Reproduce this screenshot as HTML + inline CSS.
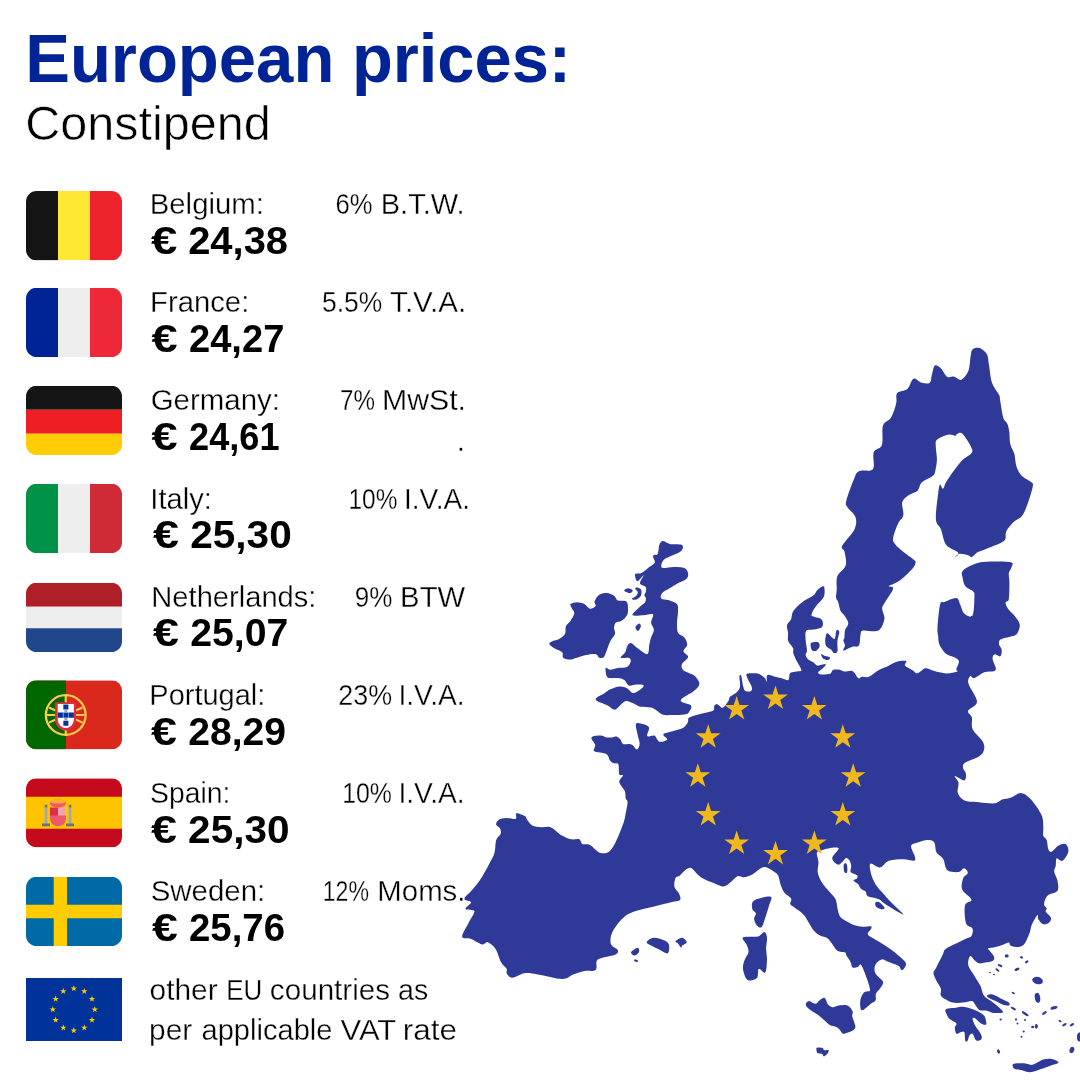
<!DOCTYPE html>
<html><head><meta charset="utf-8"><title>European prices</title>
<style>html,body{margin:0;padding:0;background:#fff}svg{display:block}
text{font-family:"Liberation Sans",Arial,sans-serif}.thin{stroke:#fff;stroke-width:0.32px}.thin2{stroke:#fff;stroke-width:0.6px}</style></head>
<body><svg width="1080" height="1080" viewBox="0 0 1080 1080">
<defs><clipPath id="cBE"><path d="M4 5C1.791 5 0 6.791 0 9v18c0 2.209 1.791 4 4 4h28c2.209 0 4-1.791 4-4V9c0-2.209-1.791-4-4-4z"/></clipPath><clipPath id="cFR"><path d="M4 5C1.791 5 0 6.791 0 9v18c0 2.209 1.791 4 4 4h28c2.209 0 4-1.791 4-4V9c0-2.209-1.791-4-4-4z"/></clipPath><clipPath id="cDE"><path d="M4 5C1.791 5 0 6.791 0 9v18c0 2.209 1.791 4 4 4h28c2.209 0 4-1.791 4-4V9c0-2.209-1.791-4-4-4z"/></clipPath><clipPath id="cIT"><path d="M4 5C1.791 5 0 6.791 0 9v18c0 2.209 1.791 4 4 4h28c2.209 0 4-1.791 4-4V9c0-2.209-1.791-4-4-4z"/></clipPath><clipPath id="cNL"><path d="M4 5C1.791 5 0 6.791 0 9v18c0 2.209 1.791 4 4 4h28c2.209 0 4-1.791 4-4V9c0-2.209-1.791-4-4-4z"/></clipPath><clipPath id="cPT"><path d="M4 5C1.791 5 0 6.791 0 9v18c0 2.209 1.791 4 4 4h28c2.209 0 4-1.791 4-4V9c0-2.209-1.791-4-4-4z"/></clipPath><clipPath id="cES"><path d="M4 5C1.791 5 0 6.791 0 9v18c0 2.209 1.791 4 4 4h28c2.209 0 4-1.791 4-4V9c0-2.209-1.791-4-4-4z"/></clipPath><clipPath id="cSE"><path d="M4 5C1.791 5 0 6.791 0 9v18c0 2.209 1.791 4 4 4h28c2.209 0 4-1.791 4-4V9c0-2.209-1.791-4-4-4z"/></clipPath></defs>
<rect width="1080" height="1080" fill="#fff"/>
<path fill="#2f3a98" d="M496.1 824.4C496.0 823.0 497.2 820.9 498.9 819.8C500.6 818.7 503.5 818.1 506.3 818.0C509.1 817.9 513.9 819.7 515.6 818.9C517.3 818.1 515.0 813.8 516.5 813.3C518.0 812.8 523.1 815.2 524.8 816.1C526.5 817.0 525.5 817.4 526.7 818.9C527.9 820.4 529.7 824.0 532.2 825.4C534.7 826.8 538.4 826.9 541.5 827.2C544.6 827.5 547.3 825.8 550.7 827.2C554.1 828.6 558.5 833.6 561.9 835.6C565.3 837.6 568.2 838.7 571.1 839.3C574.0 839.9 577.5 838.5 579.4 839.3C581.2 840.1 580.5 843.0 582.2 843.9C583.9 844.8 587.4 843.9 589.6 844.8C591.8 845.7 593.4 848.0 595.2 849.4C597.1 850.8 598.6 852.6 600.7 853.1C602.9 853.6 605.9 853.4 608.1 852.2C610.3 851.0 611.8 848.8 613.7 845.7C615.6 842.6 617.6 837.7 619.3 833.7C621.0 829.7 622.8 825.1 623.9 821.7C625.0 818.3 625.1 816.5 625.7 813.3C626.3 810.0 627.6 804.7 627.6 802.2C627.6 799.7 626.2 800.4 625.7 798.5C625.2 796.6 625.9 793.9 624.8 791.1C623.7 788.3 619.6 784.5 619.3 781.9C619.0 779.3 623.0 776.6 623.0 775.4C623.0 774.1 620.1 776.2 619.3 774.4C618.5 772.5 619.2 766.1 618.3 764.3C617.4 762.4 615.1 763.9 613.7 763.3C612.3 762.7 611.2 762.1 610.0 760.6C608.8 759.1 608.9 755.7 606.3 754.1C603.7 752.5 596.1 752.8 594.3 751.3C592.4 749.8 595.7 747.1 595.2 744.8C594.7 742.5 590.6 738.9 591.5 737.4C592.4 735.9 598.2 735.6 600.7 735.6C603.2 735.6 604.4 737.1 606.3 737.4C608.2 737.7 610.2 737.5 611.9 737.4C613.6 737.2 615.1 736.2 616.5 736.5C617.9 736.8 619.1 738.1 620.2 739.3C621.3 740.5 621.6 743.1 623.0 743.9C624.4 744.7 627.0 743.8 628.5 743.9C630.0 744.0 630.8 743.9 632.2 744.8C633.6 745.7 635.7 749.5 636.9 749.4C638.1 749.2 639.5 746.2 639.6 743.9C639.8 741.6 638.4 738.9 637.8 735.6C637.2 732.4 635.4 726.4 635.9 724.4C636.4 722.4 638.4 723.0 640.6 723.5C642.8 724.0 647.8 725.1 648.9 727.2C650.0 729.3 646.3 734.7 647.2 736.1C648.1 737.5 652.4 734.7 654.4 735.6C656.4 736.5 657.3 741.1 659.4 741.7C661.5 742.3 666.6 740.6 667.2 739.4C667.9 738.2 662.3 735.8 663.3 734.4C664.3 733.0 670.0 732.2 673.3 731.1C676.6 730.0 680.9 729.3 683.3 727.8C685.7 726.3 686.9 723.9 687.8 722.2C688.7 720.5 687.4 719.0 688.9 717.8C690.4 716.6 693.9 715.8 696.7 715.0C699.5 714.2 702.8 713.5 705.6 712.8C708.4 712.1 711.8 711.8 713.3 710.6C714.8 709.4 713.6 706.6 714.4 705.6C715.1 704.6 716.5 704.0 717.8 704.4C719.1 704.8 720.9 707.7 722.2 707.8C723.5 707.9 724.5 706.3 725.6 705.0C726.7 703.7 728.2 701.4 728.9 700.0C729.6 698.6 728.7 698.0 730.0 696.7C731.3 695.4 735.0 693.9 736.7 692.2C738.4 690.5 739.5 689.3 740.0 686.7C740.5 684.1 739.2 678.6 739.4 676.7C739.6 674.9 740.5 673.9 741.1 675.6C741.8 677.3 742.5 684.1 743.3 686.7C744.0 689.3 744.3 690.4 745.6 691.1C746.9 691.8 750.1 691.8 751.1 691.1C752.1 690.4 752.2 688.7 751.7 686.7C751.2 684.7 748.6 681.0 747.8 678.9C747.0 676.8 745.6 674.8 746.7 673.9C747.8 673.0 752.2 673.2 754.4 673.3C756.6 673.4 758.2 673.6 760.0 674.4C761.8 675.2 763.9 677.1 765.0 678.3C766.1 679.5 766.3 682.2 766.7 681.7C767.1 681.2 766.1 675.8 767.5 675.0C768.9 674.2 772.6 676.2 775.0 676.7C777.4 677.2 779.5 677.8 781.7 678.3C783.9 678.8 786.9 680.8 788.3 680.0C789.7 679.2 788.9 674.7 790.0 673.3C791.1 671.9 793.1 672.1 795.0 671.7C796.9 671.3 800.2 671.4 801.1 670.7C802.0 670.1 801.1 669.4 800.4 667.8C799.7 666.2 797.9 663.5 796.7 661.1C795.5 658.7 793.9 655.5 793.3 653.3C792.7 651.1 793.9 650.2 793.0 648.1C792.1 646.0 788.9 643.2 788.1 640.7C787.3 638.2 788.3 635.9 788.1 633.3C787.9 630.7 786.5 627.5 787.0 625.2C787.5 622.9 790.1 621.6 791.1 619.3C792.1 616.9 791.4 614.0 793.3 611.1C795.1 608.2 798.9 604.8 802.2 602.2C805.5 599.6 810.8 597.6 813.3 595.6C815.8 593.6 815.4 592.0 817.0 590.4C818.6 588.8 821.8 586.7 823.0 586.3C824.2 585.9 824.2 586.7 824.4 588.1C824.6 589.5 824.8 592.9 824.4 594.8C824.0 596.7 823.7 597.3 822.2 599.3C820.7 601.3 817.3 604.4 815.6 606.7C813.9 609.0 812.4 611.7 811.9 613.3C811.4 614.9 811.1 615.4 812.6 616.3C814.1 617.2 819.4 617.6 821.1 618.9C822.8 620.2 823.0 622.6 823.0 624.1C823.0 625.6 822.6 626.9 821.1 627.8C819.6 628.7 816.2 629.1 813.7 629.6C811.2 630.1 807.6 629.0 806.3 630.7C804.9 632.4 805.5 636.3 805.6 639.6C805.7 642.9 807.0 648.2 807.0 650.7C807.0 653.2 805.5 653.0 805.6 654.4C805.7 655.8 806.4 657.5 807.8 658.9C809.1 660.3 812.1 661.5 813.7 662.6C815.3 663.7 815.4 665.4 817.4 665.6C819.4 665.9 824.7 663.6 825.6 664.1C826.5 664.6 823.9 667.1 822.6 668.5C821.4 669.9 818.4 671.2 818.1 672.2C817.9 673.2 819.1 674.1 821.1 674.4C823.1 674.6 828.0 674.4 830.0 673.7C832.0 673.0 831.5 670.7 833.0 670.0C834.5 669.3 837.0 669.4 838.9 669.6C840.8 669.9 842.0 671.3 844.1 671.5C846.2 671.7 849.6 670.3 851.5 670.7C853.4 671.1 854.1 672.4 855.2 673.7C856.3 675.0 857.1 677.8 858.3 678.3C859.5 678.8 860.4 677.0 862.2 676.7C864.0 676.4 866.1 677.8 868.9 676.7C871.7 675.6 875.9 671.7 878.9 670.0C881.9 668.3 883.7 668.1 886.7 666.7C889.7 665.3 893.5 662.6 896.7 661.7C899.9 660.8 904.7 660.5 906.1 661.1C907.5 661.8 904.0 664.1 905.0 665.6C906.0 667.1 910.2 668.7 912.2 670.0C914.2 671.3 915.2 673.1 916.7 673.3C918.2 673.5 919.6 671.9 921.1 671.1C922.6 670.3 923.4 668.3 925.6 668.3C927.8 668.3 931.3 670.3 934.4 671.1C937.5 671.9 941.4 673.0 944.4 673.3C947.4 673.6 950.0 673.1 952.2 672.8C954.4 672.4 956.9 671.8 957.6 671.2C958.3 670.6 956.1 670.9 956.3 669.3C956.5 667.7 959.1 663.5 958.9 661.5C958.7 659.5 957.2 658.9 955.0 657.6C952.8 656.3 948.5 655.9 945.9 653.7C943.3 651.5 940.7 647.6 939.4 644.6C938.1 641.6 938.4 638.4 938.1 635.6C937.8 632.8 937.2 633.0 937.5 627.8C937.8 622.6 938.9 608.7 940.1 604.4C941.3 600.1 941.9 603.0 944.6 601.9C947.3 600.8 953.7 597.6 956.3 598.0C958.9 598.4 958.9 601.8 960.2 604.4C961.5 607.0 962.1 611.6 964.1 613.5C966.1 615.4 970.8 618.3 972.5 615.5C974.2 612.7 974.3 600.7 974.4 596.7C974.5 592.7 974.7 593.2 973.2 591.5C971.7 589.8 967.1 588.5 965.4 586.3C963.7 584.1 963.2 581.1 962.8 578.5C962.4 575.9 960.6 573.2 962.8 570.7C964.9 568.2 971.6 565.1 975.7 563.6C979.8 562.1 981.6 561.9 987.4 561.7C993.2 561.5 1006.7 561.3 1010.7 562.3C1014.7 563.3 1011.7 565.7 1011.4 567.5C1011.1 569.3 1009.1 570.8 1008.8 573.3C1008.5 575.8 1009.4 578.1 1009.4 582.4C1009.4 586.7 1009.4 595.9 1008.8 599.3C1008.2 602.6 1005.7 600.9 1005.6 602.5C1005.5 604.1 1006.5 606.5 1008.2 609.0C1009.9 611.5 1014.0 614.7 1015.9 617.4C1017.8 620.1 1019.7 622.4 1019.8 625.2C1019.9 628.0 1018.3 632.3 1016.6 634.3C1014.9 636.2 1012.1 636.0 1009.4 636.9C1006.7 637.8 1002.1 638.1 1000.4 639.4C998.7 640.7 998.9 642.9 999.1 644.6C999.3 646.3 1001.5 647.8 1001.7 649.8C1001.9 651.8 1001.6 655.5 1000.4 656.3C999.2 657.1 995.8 654.0 994.5 654.4C993.2 654.8 992.4 656.6 992.6 658.9C992.8 661.2 995.6 666.0 995.8 668.0C996.0 670.0 995.8 670.5 993.9 671.2C992.0 671.9 987.7 671.1 984.4 672.2C981.1 673.4 976.4 677.5 974.1 678.1C971.8 678.7 971.4 675.5 970.4 675.9C969.4 676.3 968.2 678.7 968.1 680.4C968.0 682.1 968.1 682.7 969.6 686.3C971.1 689.9 977.2 697.8 977.0 701.9C976.8 706.0 969.0 708.1 968.1 710.7C967.2 713.3 971.1 714.3 971.9 717.4C972.6 720.5 970.8 725.2 972.6 729.3C974.5 733.4 981.1 738.3 983.0 741.9C984.9 745.5 984.5 748.2 983.7 750.7C983.0 753.2 981.6 754.7 978.5 756.7C975.4 758.7 967.8 760.8 965.2 762.6C962.6 764.5 962.9 765.9 963.0 767.8C963.1 769.6 965.7 771.6 965.9 773.7C966.1 775.8 966.2 780.0 964.4 780.4C962.5 780.8 955.8 775.5 954.8 775.9C953.8 776.3 958.0 779.8 958.5 782.6C959.0 785.5 956.8 790.0 957.8 793.0C958.8 796.0 961.2 798.9 964.4 800.4C967.6 801.9 971.9 801.4 977.0 801.9C982.1 802.4 990.6 803.7 994.8 803.3C999.0 802.9 999.5 800.6 1002.2 799.6C1004.9 798.6 1008.0 798.5 1011.1 797.4C1014.2 796.3 1017.7 793.0 1020.7 793.0C1023.7 793.0 1026.3 795.2 1028.9 797.4C1031.5 799.6 1034.1 803.1 1036.3 806.3C1038.5 809.5 1041.0 813.3 1042.2 816.7C1043.4 820.1 1043.1 823.5 1043.3 826.7C1043.5 829.9 1042.7 833.6 1043.3 835.8C1043.9 838.0 1045.9 837.8 1046.7 840.0C1047.5 842.2 1047.5 847.2 1048.3 849.2C1049.1 851.2 1050.0 852.3 1051.7 851.7C1053.4 851.1 1056.0 847.0 1058.3 845.8C1060.6 844.5 1064.1 843.2 1065.8 844.2C1067.5 845.2 1068.8 848.9 1068.3 851.7C1067.8 854.5 1064.4 859.7 1062.5 860.8C1060.6 861.9 1057.8 857.5 1056.7 858.3C1055.6 859.1 1056.2 863.6 1055.8 865.8C1055.4 868.0 1053.9 869.2 1054.2 871.7C1054.5 874.2 1057.0 877.6 1057.5 880.8C1058.0 884.0 1059.0 888.4 1057.5 890.8C1056.0 893.2 1050.4 893.5 1048.3 895.0C1046.2 896.5 1045.7 898.3 1045.0 900.0C1044.3 901.7 1043.9 903.6 1044.2 905.0C1044.5 906.4 1046.4 907.2 1046.7 908.3C1047.0 909.4 1045.1 910.2 1045.8 911.7C1046.5 913.2 1050.2 915.7 1050.8 917.5C1051.4 919.3 1050.5 921.4 1049.2 922.5C1048.0 923.6 1045.1 924.8 1043.3 924.2C1041.5 923.7 1039.3 920.7 1038.3 919.2C1037.3 917.7 1038.6 914.0 1037.5 915.0C1036.4 916.0 1033.0 922.0 1031.7 925.0C1030.4 928.0 1030.9 929.7 1029.6 933.0C1028.3 936.3 1025.9 942.5 1023.7 944.8C1021.5 947.1 1018.5 946.9 1016.3 947.0C1014.1 947.1 1011.6 946.3 1010.4 945.6C1009.2 944.9 1010.1 942.7 1008.9 942.6C1007.7 942.5 1005.2 944.1 1003.0 944.8C1000.8 945.5 998.1 946.4 995.6 947.0C993.1 947.6 989.1 947.9 988.1 948.5C987.1 949.1 988.6 949.3 989.6 950.7C990.6 952.1 993.6 955.0 994.1 956.7C994.6 958.4 994.1 960.1 992.6 961.1C991.1 962.1 987.4 962.2 985.2 962.6C983.0 963.0 981.0 963.7 979.3 963.3C977.6 962.9 976.3 961.6 974.8 960.4C973.3 959.2 971.5 955.6 970.4 955.9C969.3 956.1 968.4 960.0 968.1 961.9C967.9 963.8 968.1 965.1 968.9 967.0C969.6 968.9 971.4 971.0 972.6 973.0C973.8 975.0 974.9 976.7 976.3 978.9C977.6 981.1 979.5 983.6 980.7 986.3C981.9 989.0 982.0 992.7 983.7 995.2C985.4 997.7 988.6 999.1 991.1 1001.1C993.6 1003.1 996.5 1005.1 998.5 1007.0C1000.5 1008.9 1003.7 1011.2 1003.0 1012.2C1002.3 1013.2 996.8 1013.2 994.1 1013.0C991.4 1012.8 989.2 1011.2 986.7 1010.7C984.2 1010.2 981.3 1011.1 979.3 1010.0C977.3 1008.9 976.0 1005.6 974.8 1004.1C973.6 1002.6 973.9 1001.4 971.9 1001.1C969.9 1000.9 966.2 1002.4 963.0 1002.6C959.8 1002.9 955.5 1003.1 952.6 1002.6C949.8 1002.1 947.9 1000.8 945.9 999.6C943.9 998.4 941.5 997.0 940.7 995.2C939.9 993.4 941.6 991.2 940.9 988.7C940.2 986.2 937.5 983.0 936.3 980.4C935.1 977.8 933.5 975.2 933.5 973.0C933.5 970.8 934.8 970.5 936.3 967.4C937.8 964.3 941.2 957.5 942.8 954.4C944.3 951.3 943.3 950.8 945.6 948.9C947.9 947.0 953.3 945.0 956.7 943.3C960.1 941.6 963.4 939.9 965.9 938.7C968.4 937.5 970.4 937.6 971.5 935.9C972.6 934.2 973.3 930.6 972.4 928.5C971.5 926.4 967.1 926.9 965.9 923.0C964.7 919.1 964.1 909.3 965.0 905.4C965.9 901.5 972.0 902.4 971.5 899.8C971.0 897.2 963.6 893.1 962.2 889.6C960.8 886.1 962.2 881.3 963.1 878.5C964.0 875.7 967.6 874.7 967.8 873.0C968.0 871.3 965.6 868.5 964.1 868.3C962.6 868.1 961.3 871.7 958.5 872.0C955.7 872.3 949.9 872.2 947.4 870.2C944.9 868.2 944.8 862.3 943.7 860.0C942.6 857.7 941.9 857.6 940.7 856.3C939.5 854.9 937.4 854.2 936.3 851.9C935.2 849.5 935.6 844.2 934.1 842.2C932.6 840.2 930.0 840.0 927.4 840.0C924.8 840.0 921.2 841.2 918.5 842.2C915.8 843.2 911.7 843.5 911.1 845.9C910.5 848.2 914.3 853.8 914.8 856.3C915.3 858.8 916.0 860.2 914.1 860.7C912.2 861.2 907.9 859.3 903.7 859.3C899.5 859.3 892.9 859.4 888.9 860.7C884.9 862.1 883.1 866.9 880.0 867.4C876.9 867.9 871.9 862.6 870.4 863.7C868.9 864.8 870.2 870.7 871.1 874.1C872.0 877.5 873.6 881.2 875.6 884.4C877.6 887.6 880.8 890.7 883.0 893.3C885.2 895.9 886.7 897.7 888.9 900.0C891.1 902.3 893.6 904.6 896.0 907.0C898.4 909.4 904.8 915.1 903.0 914.6C901.2 914.1 889.4 906.8 885.5 904.3C881.6 901.8 881.3 900.6 879.5 899.6C877.7 898.6 876.8 898.6 874.8 898.0C872.8 897.4 868.9 897.2 867.4 896.1C865.9 895.0 866.7 892.7 865.6 891.5C864.5 890.3 862.1 889.9 860.9 888.7C859.6 887.5 859.3 885.5 858.1 884.1C856.9 882.7 853.7 881.3 853.5 880.4C853.3 879.5 856.2 879.4 856.8 878.5C857.4 877.6 858.2 876.4 857.2 875.3C856.2 874.2 851.7 873.5 850.7 872.0C849.7 870.5 851.4 868.4 851.2 866.5C851.1 864.6 850.6 862.3 849.8 860.9C848.9 859.5 847.3 857.9 846.1 858.1C844.9 858.3 843.8 860.8 842.4 861.9C841.0 863.0 839.5 865.2 837.8 864.6C836.1 864.0 832.1 860.8 832.2 858.1C832.4 855.4 839.3 850.0 838.7 848.4C838.1 846.8 831.3 848.1 828.5 848.4C825.7 848.7 823.9 849.6 822.0 850.3C820.1 851.0 817.5 850.6 816.9 852.6C816.3 854.6 818.4 858.9 818.5 862.2C818.6 865.5 817.2 869.1 817.8 872.6C818.4 876.1 820.2 879.8 822.2 883.0C824.2 886.2 827.4 889.2 829.6 891.9C831.8 894.6 834.2 896.3 835.6 899.3C837.0 902.3 837.0 907.0 837.8 910.0C838.6 913.0 838.9 915.2 840.4 917.1C841.9 919.0 844.1 919.8 846.5 921.2C848.9 922.6 851.9 924.4 854.6 925.3C857.3 926.2 860.1 926.6 862.8 926.8C865.5 927.0 869.5 925.9 870.9 926.3C872.2 926.7 871.4 927.9 870.9 929.3C870.4 930.6 866.9 932.5 867.9 934.4C868.9 936.3 873.1 938.0 877.0 940.5C880.9 943.0 886.9 946.5 891.3 949.7C895.7 952.9 901.0 957.5 903.5 959.9C906.0 962.3 905.8 962.6 906.0 964.0C906.2 965.4 905.2 967.0 904.5 968.0C903.8 969.0 902.4 970.4 901.5 970.1C900.6 969.9 900.4 967.4 899.4 966.5C898.4 965.6 897.6 965.4 895.4 964.5C893.2 963.6 888.4 961.8 886.2 960.9C884.0 960.0 883.6 959.1 882.1 959.4C880.6 959.6 878.3 961.0 877.0 962.4C875.7 963.8 874.7 966.0 874.5 968.0C874.3 970.0 874.7 972.2 876.0 974.2C877.3 976.2 880.9 978.8 882.1 980.3C883.3 981.8 883.4 981.9 883.1 983.3C882.8 984.6 881.3 986.7 880.1 988.4C878.9 990.1 876.8 991.5 876.0 993.5C875.2 995.5 876.4 998.9 875.5 1000.6C874.6 1002.3 873.1 1002.1 870.9 1003.7C868.7 1005.3 864.1 1010.0 862.3 1010.3C860.5 1010.6 860.5 1007.7 860.2 1005.7C859.9 1003.8 860.1 1000.8 860.7 998.6C861.3 996.4 862.8 993.7 863.8 992.5C864.8 991.3 865.8 992.2 866.8 991.5C867.8 990.8 870.7 992.6 869.9 988.4C869.1 984.1 863.8 969.6 861.8 966.0C859.8 962.4 859.2 966.8 857.7 967.0C856.2 967.2 853.8 968.4 852.6 967.5C851.4 966.6 851.5 963.9 850.5 961.9C849.5 959.9 847.3 957.3 846.5 955.8C845.7 954.3 846.5 953.5 845.5 952.8C844.5 952.1 841.9 952.3 840.4 951.8C838.9 951.3 837.8 951.2 836.3 949.7C834.8 948.2 832.7 944.6 831.2 942.6C829.7 940.6 829.0 939.2 827.1 938.0C825.2 936.8 822.3 936.8 820.0 935.5C817.7 934.2 815.9 933.4 813.3 930.0C810.6 926.6 807.2 918.9 804.1 915.2C801.0 911.5 797.1 909.6 794.8 907.8C792.5 905.9 790.8 905.6 790.2 904.1C789.6 902.6 792.0 900.4 791.1 898.5C790.2 896.6 786.3 895.1 784.6 893.0C782.9 890.9 782.0 888.5 780.9 885.6C779.8 882.7 779.5 877.9 778.1 875.4C776.7 872.9 774.8 872.1 772.6 870.7C770.5 869.3 767.4 867.3 765.2 867.0C763.0 866.7 761.8 867.7 759.6 868.9C757.4 870.1 754.8 873.0 752.2 874.4C749.6 875.8 746.4 876.9 743.9 877.2C741.4 877.5 739.7 875.4 737.4 876.3C735.1 877.2 732.3 881.1 730.0 882.8C727.7 884.5 726.0 886.4 723.5 886.5C721.0 886.6 718.4 884.9 715.2 883.7C712.0 882.5 707.0 880.7 704.1 879.1C701.2 877.5 699.8 876.2 697.6 874.4C695.4 872.5 693.1 868.8 691.1 868.0C689.1 867.2 687.5 868.6 685.6 869.8C683.8 871.0 681.7 874.1 680.0 875.4C678.3 876.7 676.5 875.9 675.6 877.8C674.7 879.7 673.9 884.1 674.4 886.7C674.9 889.3 678.0 891.1 678.9 893.3C679.8 895.5 681.3 898.5 680.0 900.0C678.7 901.5 675.6 901.1 671.1 902.2C666.6 903.3 659.2 905.2 653.3 906.7C647.4 908.2 640.4 909.4 635.6 911.1C630.8 912.8 627.7 914.1 624.4 916.7C621.1 919.3 617.8 923.6 615.6 926.7C613.4 929.9 611.9 932.7 611.1 935.6C610.4 938.5 610.0 942.0 611.1 944.4C612.2 946.8 617.0 948.3 617.8 950.0C618.5 951.7 618.2 953.1 615.6 954.4C613.0 955.7 605.4 956.7 602.2 957.8C599.1 958.9 597.8 959.1 596.7 961.1C595.6 963.1 597.7 968.3 595.6 970.0C593.5 971.7 588.1 970.4 584.4 971.1C580.7 971.8 577.0 973.1 573.3 974.4C569.6 975.7 568.1 978.9 562.2 978.9C556.3 978.9 544.1 975.3 537.8 974.4C531.5 973.5 528.7 972.7 524.4 973.3C520.1 973.9 515.2 977.8 512.2 977.8C509.3 977.8 507.6 974.8 506.7 973.3C505.8 971.8 507.6 970.8 506.7 968.9C505.8 967.0 503.0 965.5 501.1 962.2C499.2 958.9 497.8 952.2 495.6 948.9C493.4 945.6 490.0 943.0 487.8 942.2C485.6 941.5 485.0 945.0 482.2 944.4C479.4 943.8 474.4 940.2 471.1 938.9C467.8 937.6 462.6 939.5 462.2 936.7C461.8 933.9 466.9 926.5 468.9 922.2C470.9 917.9 474.9 913.3 474.4 911.1C473.8 908.9 466.2 910.4 465.6 908.9C465.1 907.4 471.3 903.9 471.1 902.2C470.9 900.5 464.4 900.8 464.4 898.9C464.4 897.0 468.5 894.2 471.1 891.1C473.7 888.0 477.0 884.5 480.0 880.0C483.0 875.5 486.5 868.9 488.9 864.4C491.3 859.9 493.2 857.3 494.4 853.3C495.6 849.3 495.1 843.5 496.1 840.2C497.2 836.9 500.1 835.7 500.7 833.7C501.3 831.7 500.6 829.7 499.8 828.1C499.0 826.5 496.2 825.8 496.1 824.4ZM972.6 349.2C974.1 347.8 977.3 347.2 979.7 348.1C982.1 349.0 985.4 351.6 986.9 354.3C988.4 357.0 988.0 359.6 988.9 364.4C989.8 369.1 990.3 377.7 992.0 382.8C993.7 387.9 997.8 392.1 999.1 395.0C1000.5 397.9 999.4 396.4 1000.1 400.1C1000.8 403.8 1002.0 413.5 1003.2 417.4C1004.4 421.3 1006.2 421.1 1007.2 423.5C1008.2 425.9 1008.8 428.3 1009.3 431.7C1009.8 435.1 1009.4 440.2 1010.3 443.9C1011.1 447.6 1013.4 450.4 1014.4 454.1C1015.4 457.8 1015.2 462.7 1016.4 466.3C1017.6 469.9 1019.0 472.8 1021.5 475.5C1024.0 478.2 1029.8 480.7 1031.7 482.6C1033.6 484.5 1033.2 483.6 1032.7 486.7C1032.2 489.8 1030.3 496.1 1028.6 500.9C1026.9 505.6 1025.0 511.6 1022.5 515.2C1020.0 518.8 1016.0 519.6 1013.3 522.3C1010.6 525.0 1007.7 528.4 1006.2 531.5C1004.7 534.6 1007.1 538.0 1004.2 540.7C1001.3 543.4 992.4 546.2 988.9 547.8C985.4 549.3 985.5 549.2 983.5 550.0C981.5 550.8 978.9 551.4 977.0 552.6C975.1 553.8 973.4 556.7 971.9 557.1C970.4 557.5 970.2 555.7 968.0 555.2C965.8 554.7 961.3 553.4 958.9 553.9C956.5 554.4 953.8 558.6 953.7 558.4C953.6 558.2 959.6 555.2 958.3 552.9C957.0 550.6 949.0 548.6 946.1 544.7C943.2 540.8 942.7 533.6 941.0 529.4C939.3 525.2 936.4 525.1 935.9 519.3C935.4 513.5 937.3 500.6 938.0 494.8C938.7 489.0 939.1 485.6 940.0 484.6C940.9 483.6 941.9 489.4 943.1 488.7C944.3 488.0 944.2 485.0 947.1 480.6C950.0 476.2 956.3 466.8 960.4 462.2C964.5 457.6 969.9 455.8 971.6 453.1C973.3 450.4 972.1 449.1 970.6 445.9C969.1 442.7 964.6 435.7 962.4 433.7C960.2 431.7 958.5 433.4 957.3 433.7C956.1 434.0 956.8 435.5 955.3 435.7C953.8 435.9 951.3 434.0 948.2 434.7C945.1 435.4 939.0 437.6 936.9 439.8C934.8 442.0 935.9 444.6 935.9 448.0C935.9 451.4 937.1 456.1 936.9 460.2C936.7 464.3 935.7 469.7 934.9 472.4C934.1 475.1 934.1 474.8 931.9 476.5C929.7 478.2 924.1 480.2 921.7 482.6C919.3 485.0 919.7 488.7 917.6 490.7C915.5 492.7 912.0 492.9 909.4 494.8C906.8 496.7 903.3 498.6 902.3 502.0C901.3 505.4 904.0 511.7 903.3 515.2C902.6 518.8 899.9 519.6 898.2 523.3C896.5 527.0 893.8 534.3 893.2 537.6C892.6 540.9 893.1 541.2 894.4 543.3C895.7 545.4 898.0 547.4 901.1 550.0C904.2 552.6 910.4 556.9 912.8 558.9C915.2 560.9 915.7 560.5 915.6 562.2C915.5 563.9 915.0 565.8 912.2 568.9C909.4 572.0 902.8 578.2 898.9 581.1C895.0 584.0 889.9 585.1 888.9 586.1C887.9 587.1 892.2 586.4 892.8 587.2C893.3 588.0 893.6 588.4 892.2 591.1C890.8 593.8 886.1 600.3 884.4 603.3C882.7 606.3 882.2 606.3 882.2 608.9C882.2 611.5 885.0 615.3 884.4 618.9C883.8 622.5 881.8 628.6 878.3 630.6C874.8 632.6 866.2 630.0 863.3 630.6C860.3 631.2 861.3 631.9 860.6 634.4C859.9 636.9 860.3 643.5 858.9 645.6C857.5 647.7 854.8 645.9 852.2 646.7C849.6 647.5 844.5 650.8 843.3 650.6C842.1 650.4 845.0 647.3 845.0 645.6C845.0 643.9 843.4 641.9 843.3 640.6C843.2 639.3 844.1 639.6 844.4 637.8C844.7 636.0 844.4 632.4 845.0 630.0C845.6 627.6 848.4 625.7 848.3 623.3C848.2 620.9 845.7 617.6 844.4 615.6C843.1 613.6 841.6 613.3 840.6 611.1C839.6 608.9 839.0 604.4 838.3 602.2C837.5 600.0 836.4 599.8 836.1 597.8C835.8 595.8 836.5 593.5 836.7 590.0C836.9 586.5 835.9 580.4 837.2 576.7C838.5 573.0 842.9 570.2 844.4 567.8C845.9 565.4 846.1 565.0 846.1 562.2C846.1 559.4 845.0 553.9 844.4 551.1C843.8 548.4 840.5 549.3 842.2 545.7C843.9 542.1 852.2 534.1 854.4 529.4C856.6 524.6 856.7 520.9 855.5 517.2C854.3 513.5 848.8 509.7 847.3 507.0C845.8 504.3 845.3 505.3 846.3 500.9C847.3 496.5 851.4 485.5 853.4 480.6C855.4 475.7 855.6 473.1 858.5 471.4C861.4 469.7 868.2 471.2 870.7 470.4C873.2 469.5 873.3 469.4 873.8 466.3C874.3 463.2 872.4 455.6 873.8 452.0C875.1 448.4 880.4 449.3 881.9 444.9C883.4 440.5 881.5 430.2 883.0 425.6C884.5 421.0 888.9 421.1 891.1 417.4C893.3 413.7 895.2 407.3 896.2 403.2C897.2 399.1 895.3 395.4 897.2 393.0C899.1 390.6 904.7 391.3 907.4 388.9C910.1 386.5 911.1 379.7 913.5 378.7C915.9 377.7 919.0 382.1 921.7 382.8C924.4 383.5 928.1 384.2 929.8 382.8C931.5 381.4 931.0 377.5 931.9 374.6C932.8 371.7 933.4 366.5 934.9 365.5C936.4 364.5 939.0 366.6 941.0 368.5C943.0 370.4 944.9 375.3 947.1 376.7C949.3 378.1 951.9 376.2 954.3 376.7C956.7 377.2 959.0 380.7 961.4 379.7C963.8 378.7 967.0 374.5 968.5 370.6C970.0 366.7 969.9 359.9 970.6 356.3C971.3 352.7 971.1 350.6 972.6 349.2ZM570.6 604.1C571.5 603.2 574.7 602.2 577.0 602.2C579.3 602.2 582.2 602.9 584.4 604.0C586.6 605.1 588.1 608.4 590.0 608.7C591.9 609.0 594.8 607.2 595.6 606.0C596.4 604.8 594.0 603.2 594.6 601.3C595.2 599.4 597.3 596.2 599.3 594.8C601.3 593.4 604.2 592.9 606.7 593.0C609.2 593.1 612.1 594.5 614.0 595.7C615.9 596.9 615.8 599.5 617.8 600.4C619.8 601.3 624.4 600.1 626.1 601.3C627.8 602.5 627.9 605.5 628.0 607.8C628.1 610.1 628.1 613.1 627.0 615.2C625.9 617.4 623.4 619.5 621.5 620.7C619.6 621.9 617.1 621.4 615.9 622.6C614.6 623.8 614.1 626.2 614.0 628.1C613.9 630.0 615.6 631.5 615.0 633.7C614.4 635.9 611.8 638.3 610.4 641.1C609.0 643.9 607.8 647.8 606.7 650.4C605.6 653.0 605.1 655.7 603.9 656.9C602.7 658.1 600.7 658.3 599.3 657.8C597.9 657.3 597.8 654.6 595.6 654.1C593.4 653.6 589.4 654.4 586.3 655.0C583.2 655.6 579.8 657.0 577.0 657.8C574.2 658.6 571.9 659.6 569.6 659.6C567.3 659.6 564.3 659.0 563.1 657.8C561.9 656.6 563.6 653.8 562.2 652.2C560.8 650.7 556.9 649.9 554.8 648.5C552.6 647.1 549.6 645.1 549.3 643.9C549.0 642.7 551.5 641.9 553.0 641.1C554.5 640.3 556.5 640.5 558.5 639.3C560.5 638.1 563.8 635.9 565.0 633.7C566.2 631.5 565.0 628.5 565.9 626.3C566.8 624.1 569.2 622.9 570.6 620.7C572.0 618.5 574.1 615.4 574.3 613.3C574.4 611.1 572.1 609.3 571.5 607.8C570.9 606.3 569.7 605.0 570.6 604.1ZM663.1 541.1C664.8 541.0 666.5 543.3 669.6 543.9C672.7 544.5 679.7 543.7 681.7 544.8C683.7 545.9 683.1 548.7 681.7 550.4C680.3 552.1 676.2 553.5 673.3 555.0C670.4 556.5 666.1 557.9 664.1 559.6C662.1 561.3 661.5 563.8 661.3 565.2C661.1 566.6 661.1 567.7 663.1 568.0C665.1 568.3 669.8 567.0 673.3 567.0C676.8 567.0 681.9 566.9 684.4 568.0C686.9 569.1 687.8 571.6 688.1 573.5C688.4 575.4 688.1 577.4 686.3 579.1C684.4 580.8 679.8 582.2 677.0 583.7C674.2 585.2 672.1 586.8 669.6 588.3C667.1 589.8 663.6 591.3 662.2 593.0C660.8 594.7 660.1 597.3 661.3 598.5C662.5 599.7 667.0 599.5 669.6 600.4C672.2 601.3 675.6 602.2 677.0 604.1C678.4 606.0 678.0 608.4 678.0 611.5C678.0 614.6 677.0 619.1 677.0 622.6C677.0 626.1 676.8 630.3 678.0 632.8C679.2 635.3 682.9 635.4 684.4 637.4C685.9 639.4 687.4 642.5 687.2 644.8C687.1 647.1 683.4 649.3 683.5 651.3C683.6 653.3 688.2 654.9 688.1 656.9C688.0 658.9 683.7 661.3 682.6 663.0C681.5 664.7 681.4 665.9 681.7 667.2C682.0 668.6 682.8 670.0 684.4 671.1C686.0 672.2 689.2 673.0 691.1 673.9C693.0 674.8 694.2 675.0 695.6 676.7C697.0 678.4 699.6 681.6 699.4 683.9C699.2 686.2 696.5 688.6 694.4 690.6C692.3 692.6 688.9 694.1 686.7 695.6C684.5 697.1 681.9 698.3 681.1 699.4C680.4 700.5 680.5 701.2 682.2 702.2C683.9 703.2 690.0 703.9 691.1 705.6C692.2 707.3 690.0 710.7 688.9 712.2C687.8 713.7 687.2 713.9 684.4 714.4C681.6 714.9 675.9 715.0 672.2 715.0C668.5 715.0 665.5 715.6 662.2 714.4C658.9 713.2 655.9 709.1 652.2 707.8C648.5 706.5 643.3 707.5 640.0 706.7C636.7 705.9 635.1 704.0 632.6 703.1C630.1 702.2 627.7 700.5 625.2 701.3C622.7 702.1 619.7 706.4 617.8 707.8C615.9 709.2 615.9 710.1 614.0 709.6C612.1 709.1 609.8 706.7 606.7 705.0C603.6 703.3 595.9 701.4 595.6 699.4C595.3 697.4 602.3 694.7 604.8 693.0C607.3 691.3 607.9 690.4 610.4 689.3C612.9 688.2 616.8 686.7 619.6 686.5C622.4 686.3 624.8 687.2 627.0 688.3C629.2 689.4 630.8 692.5 632.6 693.0C634.5 693.5 636.2 692.3 638.1 691.1C640.0 689.9 644.0 686.7 643.7 685.6C643.4 684.5 638.8 684.6 636.3 684.6C633.8 684.6 630.9 686.4 628.9 685.6C626.9 684.8 626.1 681.2 624.3 680.0C622.4 678.8 620.1 678.4 617.8 678.1C615.5 677.8 612.2 678.4 610.4 678.1C608.5 677.8 607.5 678.0 606.7 676.3C605.9 674.6 605.1 669.1 605.7 668.0C606.3 666.9 608.4 669.8 610.4 669.8C612.4 669.8 615.0 668.5 617.8 668.0C620.6 667.5 624.9 668.1 627.0 667.0C629.1 665.9 630.4 663.0 630.7 661.5C631.0 660.0 630.6 658.4 628.9 657.8C627.2 657.2 621.2 658.7 620.6 657.8C620.0 656.9 624.1 654.1 625.2 652.2C626.3 650.4 626.1 648.2 627.0 646.7C627.9 645.2 628.9 642.7 630.7 643.0C632.6 643.3 635.3 646.6 638.1 648.5C640.9 650.4 645.5 654.7 647.4 654.1C649.3 653.5 648.7 647.6 649.3 644.8C649.9 642.0 650.3 639.9 651.1 637.4C651.9 634.9 653.9 632.5 653.9 630.0C653.9 627.5 651.2 625.2 651.1 622.6C651.0 620.0 654.2 615.5 653.0 614.3C651.8 613.1 647.1 615.1 643.7 615.2C640.3 615.4 633.7 616.1 632.6 615.2C631.5 614.3 635.4 611.3 637.0 609.6C638.6 607.9 640.8 606.1 642.2 604.8C643.6 603.5 644.6 603.0 645.2 601.9C645.8 600.8 646.0 599.2 645.9 598.1C645.8 597.0 644.4 596.3 644.4 595.2C644.4 594.1 645.7 592.9 645.9 591.5C646.1 590.1 646.6 588.4 645.6 587.0C644.6 585.6 640.3 585.3 640.0 583.3C639.7 581.3 644.1 575.6 643.7 575.2C643.3 574.8 638.8 581.3 637.4 581.1C636.0 580.9 634.5 575.5 635.2 574.1C635.9 572.8 639.1 574.2 641.5 573.0C643.9 571.8 647.1 568.8 649.3 567.0C651.5 565.2 654.2 564.2 654.8 562.4C655.4 560.5 652.5 557.3 653.0 555.9C653.5 554.5 656.5 556.0 657.6 554.1C658.7 552.2 658.5 547.0 659.4 544.8C660.3 542.6 661.4 541.2 663.1 541.1ZM624.3 590.2C624.6 589.6 626.6 588.3 628.0 588.3C629.4 588.3 632.1 589.4 632.6 590.2C633.1 591.0 631.8 592.7 630.7 593.0C629.6 593.3 627.2 592.5 626.1 592.0C625.0 591.5 624.0 590.8 624.3 590.2ZM636.3 587.4C637.2 587.4 640.1 587.9 640.9 589.3C641.7 590.7 641.7 594.0 640.9 595.7C640.1 597.4 637.8 598.9 636.3 599.4C634.8 599.9 631.7 599.5 631.7 598.9C631.7 598.3 635.3 596.9 636.3 595.7C637.3 594.6 637.9 593.1 637.8 592.0C637.6 590.9 635.6 590.1 635.4 589.3C635.1 588.5 635.4 587.4 636.3 587.4ZM635.4 627.2C635.6 626.0 638.2 623.6 639.1 623.5C640.0 623.4 641.1 625.1 640.9 626.3C640.7 627.5 639.0 630.8 638.1 630.9C637.2 631.0 635.2 628.4 635.4 627.2ZM811.5 642.6C812.7 641.9 816.8 641.6 818.1 642.2C819.5 642.8 819.8 644.9 819.6 646.3C819.4 647.7 817.9 649.7 816.7 650.4C815.5 651.1 813.2 651.1 812.2 650.4C811.2 649.7 810.8 647.6 810.7 646.3C810.6 645.0 810.3 643.3 811.5 642.6ZM825.6 637.4C826.0 636.1 825.9 633.0 827.4 633.3C828.9 633.5 832.9 639.3 834.4 638.9C835.9 638.5 835.5 631.9 836.3 630.7C837.1 629.5 839.1 630.2 839.3 631.9C839.5 633.6 837.7 637.8 837.4 641.1C837.1 644.4 838.0 649.5 837.4 651.5C836.8 653.5 834.7 653.2 833.7 653.0C832.7 652.8 832.7 651.1 831.5 650.0C830.3 648.9 827.3 647.8 826.3 646.3C825.2 644.8 825.3 642.6 825.2 641.1C825.1 639.6 825.2 638.7 825.6 637.4ZM821.1 654.1C821.4 653.7 823.5 655.5 825.0 656.0C826.5 656.5 829.5 656.7 830.0 657.4C830.5 658.1 829.2 659.8 828.0 660.0C826.8 660.2 824.1 659.5 823.0 658.5C821.9 657.5 820.8 654.5 821.1 654.1ZM843.8 864.5C844.2 863.2 845.9 863.0 846.5 863.8C847.1 864.5 847.4 867.5 847.4 869.0C847.4 870.5 847.2 872.6 846.7 873.0C846.2 873.4 844.7 872.9 844.2 871.5C843.7 870.1 843.4 865.8 843.8 864.5ZM875.5 902.6C876.0 901.9 877.8 901.4 879.3 902.3C880.8 903.2 884.3 906.6 884.6 907.8C884.9 908.9 882.4 909.4 881.0 909.2C879.6 909.0 876.9 907.9 876.0 906.8C875.1 905.7 875.0 903.4 875.5 902.6ZM754.1 900.4C757.2 898.4 768.2 895.8 770.7 896.7C773.2 897.6 770.0 901.9 768.9 905.9C767.8 909.9 765.5 917.2 764.3 920.7C763.1 924.2 762.7 926.4 761.5 927.2C760.3 928.0 758.1 926.8 756.9 925.4C755.7 924.0 754.3 920.9 754.1 918.9C753.9 916.9 756.2 915.0 755.9 913.3C755.6 911.6 752.5 910.9 752.2 908.7C751.9 906.6 751.0 902.4 754.1 900.4ZM743.0 937.4C744.9 936.0 754.2 937.4 757.8 936.5C761.3 935.6 762.8 931.8 764.3 931.9C765.8 932.0 766.7 934.6 767.0 937.4C767.3 940.2 766.1 944.8 766.1 948.5C766.1 952.2 767.1 955.6 767.0 959.6C766.9 963.6 766.6 971.1 765.2 972.6C763.8 974.1 760.1 968.0 758.7 968.9C757.3 969.8 758.8 976.2 756.9 978.1C755.0 980.0 749.9 981.5 747.6 980.0C745.3 978.5 743.5 972.3 743.0 968.9C742.5 965.5 743.9 962.4 744.8 959.6C745.7 956.8 748.2 954.7 748.5 952.2C748.8 949.7 747.6 947.3 746.7 944.8C745.8 942.3 741.1 938.8 743.0 937.4ZM806.2 1003.0C806.7 1002.2 808.0 1001.0 809.1 1001.0C810.2 1001.0 811.8 1002.6 813.0 1003.0C814.2 1003.4 815.1 1004.0 816.2 1003.6C817.3 1003.2 818.1 1001.4 819.4 1000.4C820.7 999.4 822.9 997.9 824.0 997.8C825.1 997.7 825.2 998.6 825.9 999.7C826.5 1000.8 826.8 1003.0 827.9 1004.3C829.0 1005.5 830.6 1007.0 832.4 1007.2C834.2 1007.4 836.5 1005.9 838.9 1005.6C841.3 1005.3 844.8 1004.8 846.7 1005.2C848.7 1005.6 849.6 1007.0 850.6 1008.1C851.6 1009.2 852.5 1010.7 852.8 1012.0C853.1 1013.3 852.0 1014.4 852.2 1015.9C852.4 1017.4 853.3 1019.3 853.8 1021.1C854.3 1022.9 855.5 1025.4 855.4 1026.9C855.3 1028.4 854.5 1029.2 853.1 1030.2C851.8 1031.2 849.0 1032.2 847.3 1032.8C845.6 1033.4 844.1 1034.2 842.8 1033.7C841.5 1033.2 840.6 1030.6 839.5 1029.5C838.4 1028.4 837.9 1027.7 836.3 1026.9C834.7 1026.2 831.8 1026.1 829.8 1025.0C827.8 1023.9 826.6 1022.2 824.6 1020.5C822.6 1018.8 820.0 1016.5 817.5 1014.6C815.0 1012.8 811.6 1010.9 809.7 1009.4C807.8 1007.9 806.8 1007.0 806.2 1005.9C805.6 1004.8 805.7 1003.8 806.2 1003.0ZM816.9 1047.7C817.9 1047.3 821.5 1047.6 822.7 1048.0C823.9 1048.4 823.0 1050.0 824.0 1050.3C825.0 1050.6 827.9 1049.6 828.5 1050.0C829.1 1050.4 828.6 1051.8 827.9 1052.9C827.1 1054.0 825.0 1056.2 824.0 1056.4C823.0 1056.6 823.1 1054.3 822.0 1053.8C820.9 1053.3 818.4 1053.8 817.5 1053.2C816.6 1052.6 816.6 1051.2 816.5 1050.3C816.4 1049.4 815.9 1048.1 816.9 1047.7ZM646.7 942.2C647.1 940.9 650.5 938.2 653.3 937.8C656.1 937.4 660.7 938.9 663.3 940.0C665.9 941.1 668.1 942.2 668.9 944.4C669.6 946.6 669.3 952.4 667.8 953.3C666.3 954.2 662.8 951.3 660.0 950.0C657.2 948.7 653.3 946.9 651.1 945.6C648.9 944.3 646.3 943.5 646.7 942.2ZM675.6 941.1C676.3 940.2 680.4 937.6 682.2 937.8C684.1 938.0 686.7 940.9 686.7 942.2C686.7 943.5 683.1 944.7 682.2 945.6C681.3 946.5 681.8 948.2 681.1 947.8C680.4 947.4 678.7 944.4 677.8 943.3C676.9 942.2 674.9 942.0 675.6 941.1ZM631.1 952.2C631.7 950.9 636.5 947.8 637.8 947.8C639.1 947.8 639.5 950.9 638.9 952.2C638.3 953.5 635.7 955.6 634.4 955.6C633.1 955.6 630.5 953.5 631.1 952.2ZM634.3 959.5C634.8 959.2 637.0 959.6 637.5 960.0C638.0 960.4 638.0 961.7 637.5 962.0C637.0 962.3 635.3 962.0 634.8 961.6C634.3 961.2 633.8 959.8 634.3 959.5ZM945.9 1009.3C947.4 1008.2 952.5 1008.2 955.6 1007.8C958.7 1007.4 961.0 1006.5 964.4 1007.0C967.8 1007.5 973.1 1009.3 976.3 1010.7C979.5 1012.1 982.1 1013.6 983.7 1015.2C985.3 1016.8 985.5 1018.8 985.9 1020.4C986.3 1022.0 986.8 1024.3 985.9 1024.8C985.0 1025.3 982.6 1024.4 980.7 1023.3C978.9 1022.2 976.1 1018.8 974.8 1018.1C973.4 1017.4 972.5 1017.5 972.6 1018.9C972.7 1020.3 974.2 1023.8 975.6 1026.3C977.0 1028.8 979.7 1031.6 980.7 1033.7C981.7 1035.8 982.2 1037.8 981.5 1038.9C980.8 1040.0 977.8 1041.3 976.3 1040.4C974.8 1039.5 973.7 1034.6 972.6 1033.7C971.5 1032.8 970.5 1034.0 969.6 1035.2C968.7 1036.4 968.1 1040.2 967.4 1041.1C966.7 1042.0 965.7 1041.9 965.2 1040.4C964.7 1038.9 965.1 1033.6 964.4 1032.2C963.6 1030.8 962.1 1032.0 960.7 1032.2C959.4 1032.5 957.3 1034.4 956.3 1033.7C955.3 1033.0 954.8 1029.5 954.8 1027.8C954.8 1026.1 957.2 1024.8 956.3 1023.3C955.4 1021.8 951.2 1020.4 949.6 1018.9C948.0 1017.4 947.3 1016.0 946.7 1014.4C946.1 1012.8 944.4 1010.4 945.9 1009.3ZM987.4 995.2C988.1 994.7 990.0 993.7 992.6 994.4C995.2 995.1 1000.3 998.2 1003.0 999.6C1005.7 1001.0 1007.9 1001.6 1008.9 1002.6C1009.9 1003.6 1009.9 1005.2 1008.9 1005.6C1007.9 1006.0 1005.2 1005.5 1003.0 1004.8C1000.8 1004.0 998.1 1002.3 995.6 1001.1C993.1 999.9 989.5 998.4 988.1 997.4C986.7 996.4 986.6 995.7 987.4 995.2ZM1013.3 1064.1C1014.9 1063.2 1020.5 1063.2 1023.7 1063.3C1026.9 1063.4 1029.4 1065.4 1032.6 1064.8C1035.8 1064.2 1039.8 1060.6 1043.0 1059.6C1046.2 1058.6 1049.3 1058.4 1051.9 1058.9C1054.5 1059.4 1059.0 1061.4 1058.5 1062.6C1058.0 1063.8 1052.2 1065.1 1048.9 1066.3C1045.6 1067.5 1041.7 1069.0 1038.5 1070.0C1035.3 1071.0 1032.6 1072.2 1029.6 1072.2C1026.6 1072.2 1023.3 1070.6 1020.7 1070.0C1018.1 1069.4 1015.3 1069.5 1014.1 1068.5C1012.9 1067.5 1011.7 1065.0 1013.3 1064.1Z"/><g fill="#2f3a98"><ellipse cx="1006.7" cy="955.9" rx="2.0" ry="1.7" transform="rotate(0 1006.7 955.9)"/><ellipse cx="1021.5" cy="957.4" rx="1.6" ry="1.1" transform="rotate(20 1021.5 957.4)"/><ellipse cx="1026.7" cy="961.9" rx="2.0" ry="1.1" transform="rotate(-35 1026.7 961.9)"/><ellipse cx="1000" cy="965.6" rx="2.6" ry="1.1" transform="rotate(25 1000 965.6)"/><ellipse cx="997.4" cy="970" rx="2.4" ry="1.0" transform="rotate(40 997.4 970)"/><ellipse cx="990" cy="972.5" rx="0.9" ry="0.8" transform="rotate(0 990 972.5)"/><ellipse cx="994" cy="974.5" rx="0.9" ry="0.8" transform="rotate(0 994 974.5)"/><ellipse cx="1017" cy="969.3" rx="2.6" ry="1.3" transform="rotate(-25 1017 969.3)"/><ellipse cx="1037.6" cy="980.6" rx="5.4" ry="3.6" transform="rotate(15 1037.6 980.6)"/><ellipse cx="1013.3" cy="993" rx="1.8" ry="1.0" transform="rotate(30 1013.3 993)"/><ellipse cx="1037.5" cy="997.8" rx="2.7" ry="5.0" transform="rotate(-10 1037.5 997.8)"/><ellipse cx="1054" cy="1007.8" rx="3.6" ry="1.6" transform="rotate(-15 1054 1007.8)"/><ellipse cx="1044.4" cy="1013" rx="2.8" ry="1.2" transform="rotate(-35 1044.4 1013)"/><ellipse cx="1013.3" cy="1008.5" rx="3.0" ry="1.1" transform="rotate(30 1013.3 1008.5)"/><ellipse cx="1025.2" cy="1013.7" rx="4.0" ry="1.2" transform="rotate(35 1025.2 1013.7)"/><ellipse cx="1000.7" cy="1019.6" rx="1.2" ry="1.0" transform="rotate(0 1000.7 1019.6)"/><ellipse cx="1016" cy="1019.5" rx="1.0" ry="1.3" transform="rotate(0 1016 1019.5)"/><ellipse cx="1017.5" cy="1023.5" rx="1.0" ry="1.0" transform="rotate(0 1017.5 1023.5)"/><ellipse cx="1025" cy="1020" rx="1.0" ry="1.0" transform="rotate(0 1025 1020)"/><ellipse cx="1032.6" cy="1027" rx="1.5" ry="1.2" transform="rotate(0 1032.6 1027)"/><ellipse cx="1036.3" cy="1026.3" rx="1.5" ry="2.4" transform="rotate(0 1036.3 1026.3)"/><ellipse cx="1023.7" cy="1031.5" rx="1.1" ry="1.1" transform="rotate(0 1023.7 1031.5)"/><ellipse cx="1021.5" cy="1036.7" rx="1.0" ry="1.0" transform="rotate(0 1021.5 1036.7)"/><ellipse cx="1060" cy="1021.1" rx="1.6" ry="1.0" transform="rotate(30 1060 1021.1)"/><ellipse cx="1064.4" cy="1024.8" rx="2.5" ry="1.2" transform="rotate(-30 1064.4 1024.8)"/><ellipse cx="1071.9" cy="1024.8" rx="2.5" ry="1.2" transform="rotate(-30 1071.9 1024.8)"/><ellipse cx="1079.5" cy="1037" rx="2.5" ry="4.5" transform="rotate(0 1079.5 1037)"/><ellipse cx="1071.9" cy="1050" rx="2.3" ry="3.2" transform="rotate(20 1071.9 1050)"/><ellipse cx="998.5" cy="1051.5" rx="1.4" ry="2.2" transform="rotate(-20 998.5 1051.5)"/></g><polygon fill="#f0b81c" points="775.50,685.50 778.42,694.48 787.86,694.48 780.22,700.03 783.14,709.02 775.50,703.47 767.86,709.02 770.78,700.03 763.14,694.48 772.58,694.48"/><polygon fill="#f0b81c" points="814.35,695.91 817.27,704.89 826.71,704.89 819.07,710.44 821.99,719.43 814.35,713.88 806.71,719.43 809.63,710.44 801.99,704.89 811.43,704.89"/><polygon fill="#f0b81c" points="842.79,724.35 845.71,733.33 855.15,733.33 847.51,738.88 850.43,747.87 842.79,742.32 835.15,747.87 838.07,738.88 830.43,733.33 839.87,733.33"/><polygon fill="#f0b81c" points="853.20,763.20 856.12,772.18 865.56,772.18 857.92,777.73 860.84,786.72 853.20,781.17 845.56,786.72 848.48,777.73 840.84,772.18 850.28,772.18"/><polygon fill="#f0b81c" points="842.79,802.05 845.71,811.03 855.15,811.03 847.51,816.58 850.43,825.57 842.79,820.02 835.15,825.57 838.07,816.58 830.43,811.03 839.87,811.03"/><polygon fill="#f0b81c" points="814.35,830.49 817.27,839.47 826.71,839.47 819.07,845.02 821.99,854.01 814.35,848.46 806.71,854.01 809.63,845.02 801.99,839.47 811.43,839.47"/><polygon fill="#f0b81c" points="775.50,840.90 778.42,849.88 787.86,849.88 780.22,855.43 783.14,864.42 775.50,858.87 767.86,864.42 770.78,855.43 763.14,849.88 772.58,849.88"/><polygon fill="#f0b81c" points="736.65,830.49 739.57,839.47 749.01,839.47 741.37,845.02 744.29,854.01 736.65,848.46 729.01,854.01 731.93,845.02 724.29,839.47 733.73,839.47"/><polygon fill="#f0b81c" points="708.21,802.05 711.13,811.03 720.57,811.03 712.93,816.58 715.85,825.57 708.21,820.02 700.57,825.57 703.49,816.58 695.85,811.03 705.29,811.03"/><polygon fill="#f0b81c" points="697.80,763.20 700.72,772.18 710.16,772.18 702.52,777.73 705.44,786.72 697.80,781.17 690.16,786.72 693.08,777.73 685.44,772.18 694.88,772.18"/><polygon fill="#f0b81c" points="708.21,724.35 711.13,733.33 720.57,733.33 712.93,738.88 715.85,747.87 708.21,742.32 700.57,747.87 703.49,738.88 695.85,733.33 705.29,733.33"/><polygon fill="#f0b81c" points="736.65,695.91 739.57,704.89 749.01,704.89 741.37,710.44 744.29,719.43 736.65,713.88 729.01,719.43 731.93,710.44 724.29,704.89 733.73,704.89"/>
<g transform="translate(26,177.77) scale(2.66667)"><g clip-path="url(#cBE)"><path fill="#141414" d="M0 5h12v26H0z"/><path fill="#FEE833" d="M12 5h12v26H12z"/><path fill="#EE222B" d="M24 5h12v26H24z"/></g></g><g transform="translate(26,274.47) scale(2.66667)"><g clip-path="url(#cFR)"><path fill="#002495" d="M0 5h12v26H0z"/><path fill="#EEE" d="M12 5h12v26H12z"/><path fill="#ED2939" d="M24 5h12v26H24z"/></g></g><g transform="translate(26,372.47) scale(2.66667)"><g clip-path="url(#cDE)"><path fill="#141414" d="M0 5h36v9H0z"/><path fill="#ED1F24" d="M0 14h36v9H0z"/><path fill="#FFCD05" d="M0 23h36v8H0z"/></g></g><g transform="translate(26,470.47) scale(2.66667)"><g clip-path="url(#cIT)"><path fill="#009246" d="M0 5h12v26H0z"/><path fill="#EEE" d="M12 5h12v26H12z"/><path fill="#CE2B37" d="M24 5h12v26H24z"/></g></g><g transform="translate(26,569.47) scale(2.66667)"><g clip-path="url(#cNL)"><path fill="#AE1F28" d="M0 5h36v9H0z"/><path fill="#EEE" d="M0 14h36v8H0z"/><path fill="#20478B" d="M0 22h36v9H0z"/></g></g><g transform="translate(26,666.87) scale(2.66667)"><g clip-path="url(#cPT)"><path fill="#DA291C" d="M0 5h36v26H0z"/><path fill="#006600" d="M0 5h15v26H0z"/><g stroke="#FFCC4D" stroke-width="0.8" fill="none"><circle cx="14.9" cy="18.05" r="7.45" stroke-width="0.85"/><path d="M14.9 10.6v14.9M7.9 18.05h14M8.6 15.2l6.3 2.85 6.3-2.85M8.6 20.9l6.3-2.85 6.3 2.85"/></g><path fill="#DD2E44" d="M10.9 13.3h7.9v6.3c0 2.5-1.8 4.3-3.95 4.3s-3.95-1.8-3.95-4.3z"/><path fill="#FFF" d="M11.9 13.95h6.05v5.6c0 1.9-1.35 3.4-3.02 3.4s-3.03-1.5-3.03-3.4z"/><path fill="#003399" d="M14 14.1h1.9v1.9H14zM14 17.15h1.9v1.9H14zM14 20.2h1.9v1.9H14zM11.95 17.15h1.9v1.9h-1.9zM16.05 17.15h1.9v1.9h-1.9z"/><path fill="#8fa6d8" d="M14.4 16h1.1v1.15h-1.1zM14.4 19.05h1.1v1.15h-1.1zM13.85 17.6h0.2v1h-0.2zM15.9 17.6h0.15v1h-0.15z"/></g></g><g transform="translate(26,764.87) scale(2.66667)"><g clip-path="url(#cES)"><path fill="#C60A1D" d="M0 5h36v26H0z"/><path fill="#FFC400" d="M0 12h36v12H0z"/><path fill="#EA596E" d="M9 17v3c0 1.657 1.343 3 3 3s3-1.343 3-3v-3H9z"/><path fill="#F4A2B2" d="M12 16h3v3h-3z"/><path fill="#DD2E44" d="M9 16h3v3H9z"/><ellipse fill="#EA596E" cx="12" cy="14.5" rx="3" ry="1.5"/><ellipse fill="#FFAC33" cx="12" cy="13.75" rx="3" ry=".75"/><path fill="#99AAB5" d="M7 16h1v7H7zm9 0h1v7h-1z"/><path fill="#66757F" d="M6 22h3v1H6zm9 0h3v1h-3zm-8-7h1v1H7zm9 0h1v1h-1z"/></g></g><g transform="translate(26,863.47) scale(2.66667)"><g clip-path="url(#cSE)"><path fill="#006AA7" d="M0 5h36v26H0z"/><path fill="#FECC00" d="M10.4 5h5v26h-5z"/><path fill="#FECC00" d="M0 15.5h36v5H0z"/></g></g><rect x="26" y="978" width="96" height="63" fill="#003399"/><polygon fill="#FFCC00" points="73.80,985.10 74.56,987.45 77.03,987.45 75.04,988.90 75.80,991.25 73.80,989.80 71.80,991.25 72.56,988.90 70.57,987.45 73.04,987.45"/><polygon fill="#FFCC00" points="84.30,987.91 85.06,990.26 87.53,990.26 85.54,991.71 86.30,994.06 84.30,992.61 82.30,994.06 83.06,991.71 81.07,990.26 83.54,990.26"/><polygon fill="#FFCC00" points="91.99,995.60 92.75,997.95 95.22,997.95 93.22,999.40 93.99,1001.75 91.99,1000.30 89.99,1001.75 90.75,999.40 88.75,997.95 91.22,997.95"/><polygon fill="#FFCC00" points="94.80,1006.10 95.56,1008.45 98.03,1008.45 96.04,1009.90 96.80,1012.25 94.80,1010.80 92.80,1012.25 93.56,1009.90 91.57,1008.45 94.04,1008.45"/><polygon fill="#FFCC00" points="91.99,1016.60 92.75,1018.95 95.22,1018.95 93.22,1020.40 93.99,1022.75 91.99,1021.30 89.99,1022.75 90.75,1020.40 88.75,1018.95 91.22,1018.95"/><polygon fill="#FFCC00" points="84.30,1024.29 85.06,1026.64 87.53,1026.64 85.54,1028.09 86.30,1030.44 84.30,1028.99 82.30,1030.44 83.06,1028.09 81.07,1026.64 83.54,1026.64"/><polygon fill="#FFCC00" points="73.80,1027.10 74.56,1029.45 77.03,1029.45 75.04,1030.90 75.80,1033.25 73.80,1031.80 71.80,1033.25 72.56,1030.90 70.57,1029.45 73.04,1029.45"/><polygon fill="#FFCC00" points="63.30,1024.29 64.06,1026.64 66.53,1026.64 64.54,1028.09 65.30,1030.44 63.30,1028.99 61.30,1030.44 62.06,1028.09 60.07,1026.64 62.54,1026.64"/><polygon fill="#FFCC00" points="55.61,1016.60 56.38,1018.95 58.85,1018.95 56.85,1020.40 57.61,1022.75 55.61,1021.30 53.61,1022.75 54.38,1020.40 52.38,1018.95 54.85,1018.95"/><polygon fill="#FFCC00" points="52.80,1006.10 53.56,1008.45 56.03,1008.45 54.04,1009.90 54.80,1012.25 52.80,1010.80 50.80,1012.25 51.56,1009.90 49.57,1008.45 52.04,1008.45"/><polygon fill="#FFCC00" points="55.61,995.60 56.38,997.95 58.85,997.95 56.85,999.40 57.61,1001.75 55.61,1000.30 53.61,1001.75 54.38,999.40 52.38,997.95 54.85,997.95"/><polygon fill="#FFCC00" points="63.30,987.91 64.06,990.26 66.53,990.26 64.54,991.71 65.30,994.06 63.30,992.61 61.30,994.06 62.06,991.71 60.07,990.26 62.54,990.26"/>
<text x="25.19" y="81.8" font-size="68.4" font-weight="bold" fill="#002395" textLength="309.14" lengthAdjust="spacingAndGlyphs">European</text><text x="351.9" y="81.8" font-size="68.4" font-weight="bold" fill="#002395" textLength="219.23" lengthAdjust="spacingAndGlyphs">prices:</text><text x="25.21" y="140.0" font-size="48.7" textLength="245.61" lengthAdjust="spacingAndGlyphs" class="thin2">Constipend</text><text x="149.71" y="214.0" font-size="29.5" textLength="114.26" lengthAdjust="spacingAndGlyphs" class="thin">Belgium:</text><text x="150.93" y="253.8" font-size="38.5" font-weight="bold" textLength="26.36" lengthAdjust="spacingAndGlyphs">€</text><text x="188.15" y="253.8" font-size="38.5" font-weight="bold" textLength="99.95" lengthAdjust="spacingAndGlyphs">24,38</text><text x="335.6" y="214.1" font-size="29.5" textLength="37.1" lengthAdjust="spacingAndGlyphs" class="thin">6%</text><text x="380.74" y="214.1" font-size="29.5" textLength="83.85" lengthAdjust="spacingAndGlyphs" class="thin">B.T.W.</text><text x="150.02" y="312.0" font-size="29.5" textLength="99.28" lengthAdjust="spacingAndGlyphs" class="thin">France:</text><text x="151.64" y="351.7" font-size="38.5" font-weight="bold" textLength="26.15" lengthAdjust="spacingAndGlyphs">€</text><text x="189.01" y="351.7" font-size="38.5" font-weight="bold" textLength="95.33" lengthAdjust="spacingAndGlyphs">24,27</text><text x="321.93" y="311.7" font-size="29.5" textLength="60.31" lengthAdjust="spacingAndGlyphs" class="thin">5.5%</text><text x="390.1" y="311.7" font-size="29.5" textLength="76.19" lengthAdjust="spacingAndGlyphs" class="thin">T.V.A.</text><text x="150.7" y="410.0" font-size="29.5" textLength="129.31" lengthAdjust="spacingAndGlyphs" class="thin">Germany:</text><text x="151.64" y="450.0" font-size="38.5" font-weight="bold" textLength="26.15" lengthAdjust="spacingAndGlyphs">€</text><text x="189.08" y="450.0" font-size="38.5" font-weight="bold" textLength="90.51" lengthAdjust="spacingAndGlyphs">24,61</text><text x="339.97" y="409.6" font-size="29.5" textLength="34.97" lengthAdjust="spacingAndGlyphs" class="thin">7%</text><text x="381.94" y="409.6" font-size="29.5" textLength="84.09" lengthAdjust="spacingAndGlyphs" class="thin">MwSt.</text><text x="150.34" y="508.8" font-size="29.5" textLength="61.44" lengthAdjust="spacingAndGlyphs" class="thin">Italy:</text><text x="152.94" y="548.0" font-size="38.5" font-weight="bold" textLength="25.94" lengthAdjust="spacingAndGlyphs">€</text><text x="190.23" y="548.0" font-size="38.5" font-weight="bold" textLength="101.52" lengthAdjust="spacingAndGlyphs">25,30</text><text x="348.49" y="509.1" font-size="29.5" textLength="48.98" lengthAdjust="spacingAndGlyphs" class="thin">10%</text><text x="403.93" y="509.1" font-size="29.5" textLength="66.08" lengthAdjust="spacingAndGlyphs" class="thin">I.V.A.</text><text x="151.33" y="606.7" font-size="29.5" textLength="165.1" lengthAdjust="spacingAndGlyphs" class="thin">Netherlands:</text><text x="152.94" y="645.8" font-size="38.5" font-weight="bold" textLength="25.94" lengthAdjust="spacingAndGlyphs">€</text><text x="190.27" y="645.8" font-size="38.5" font-weight="bold" textLength="98.12" lengthAdjust="spacingAndGlyphs">25,07</text><text x="354.77" y="607.0" font-size="29.5" textLength="37.65" lengthAdjust="spacingAndGlyphs" class="thin">9%</text><text x="400.12" y="607.0" font-size="29.5" textLength="65.03" lengthAdjust="spacingAndGlyphs" class="thin">BTW</text><text x="149.34" y="704.7" font-size="29.5" textLength="115.99" lengthAdjust="spacingAndGlyphs" class="thin">Portugal:</text><text x="150.94" y="745.0" font-size="38.5" font-weight="bold" textLength="25.94" lengthAdjust="spacingAndGlyphs">€</text><text x="188.18" y="745.0" font-size="38.5" font-weight="bold" textLength="97.9" lengthAdjust="spacingAndGlyphs">28,29</text><text x="338.23" y="705.3" font-size="29.5" textLength="53.82" lengthAdjust="spacingAndGlyphs" class="thin">23%</text><text x="398.42" y="705.3" font-size="29.5" textLength="66.29" lengthAdjust="spacingAndGlyphs" class="thin">I.V.A.</text><text x="150.06" y="803.0" font-size="29.5" textLength="80.29" lengthAdjust="spacingAndGlyphs" class="thin">Spain:</text><text x="150.94" y="842.8" font-size="38.5" font-weight="bold" textLength="25.94" lengthAdjust="spacingAndGlyphs">€</text><text x="188.13" y="842.8" font-size="38.5" font-weight="bold" textLength="101.31" lengthAdjust="spacingAndGlyphs">25,30</text><text x="342.15" y="803.0" font-size="29.5" textLength="49.83" lengthAdjust="spacingAndGlyphs" class="thin">10%</text><text x="398.42" y="803.0" font-size="29.5" textLength="66.29" lengthAdjust="spacingAndGlyphs" class="thin">I.V.A.</text><text x="150.7" y="900.8" font-size="29.5" textLength="114.6" lengthAdjust="spacingAndGlyphs" class="thin">Sweden:</text><text x="151.94" y="940.8" font-size="38.5" font-weight="bold" textLength="25.84" lengthAdjust="spacingAndGlyphs">€</text><text x="189.0" y="940.8" font-size="38.5" font-weight="bold" textLength="96.05" lengthAdjust="spacingAndGlyphs">25,76</text><text x="322.69" y="900.6" font-size="29.5" textLength="46.33" lengthAdjust="spacingAndGlyphs" class="thin">12%</text><text x="377.31" y="900.6" font-size="29.5" textLength="88.18" lengthAdjust="spacingAndGlyphs" class="thin">Moms.</text><text x="456.8" y="451.0" font-size="29.5" class="thin">.</text><text x="149.56" y="999.6" font-size="29.0" textLength="68.16" lengthAdjust="spacingAndGlyphs" class="thin">other</text><text x="226.25" y="999.6" font-size="29.0" textLength="36.11" lengthAdjust="spacingAndGlyphs" class="thin">EU</text><text x="269.87" y="999.6" font-size="29.0" textLength="120.22" lengthAdjust="spacingAndGlyphs" class="thin">countries</text><text x="398.12" y="999.6" font-size="29.0" textLength="30.21" lengthAdjust="spacingAndGlyphs" class="thin">as</text><text x="149.14" y="1040.3" font-size="29.0" textLength="43.2" lengthAdjust="spacingAndGlyphs" class="thin">per</text><text x="201.5" y="1040.3" font-size="29.0" textLength="131.02" lengthAdjust="spacingAndGlyphs" class="thin">applicable</text><text x="340.58" y="1040.3" font-size="29.0" textLength="55.68" lengthAdjust="spacingAndGlyphs" class="thin">VAT</text><text x="402.83" y="1040.3" font-size="29.0" textLength="54.26" lengthAdjust="spacingAndGlyphs" class="thin">rate</text>
</svg></body></html>
